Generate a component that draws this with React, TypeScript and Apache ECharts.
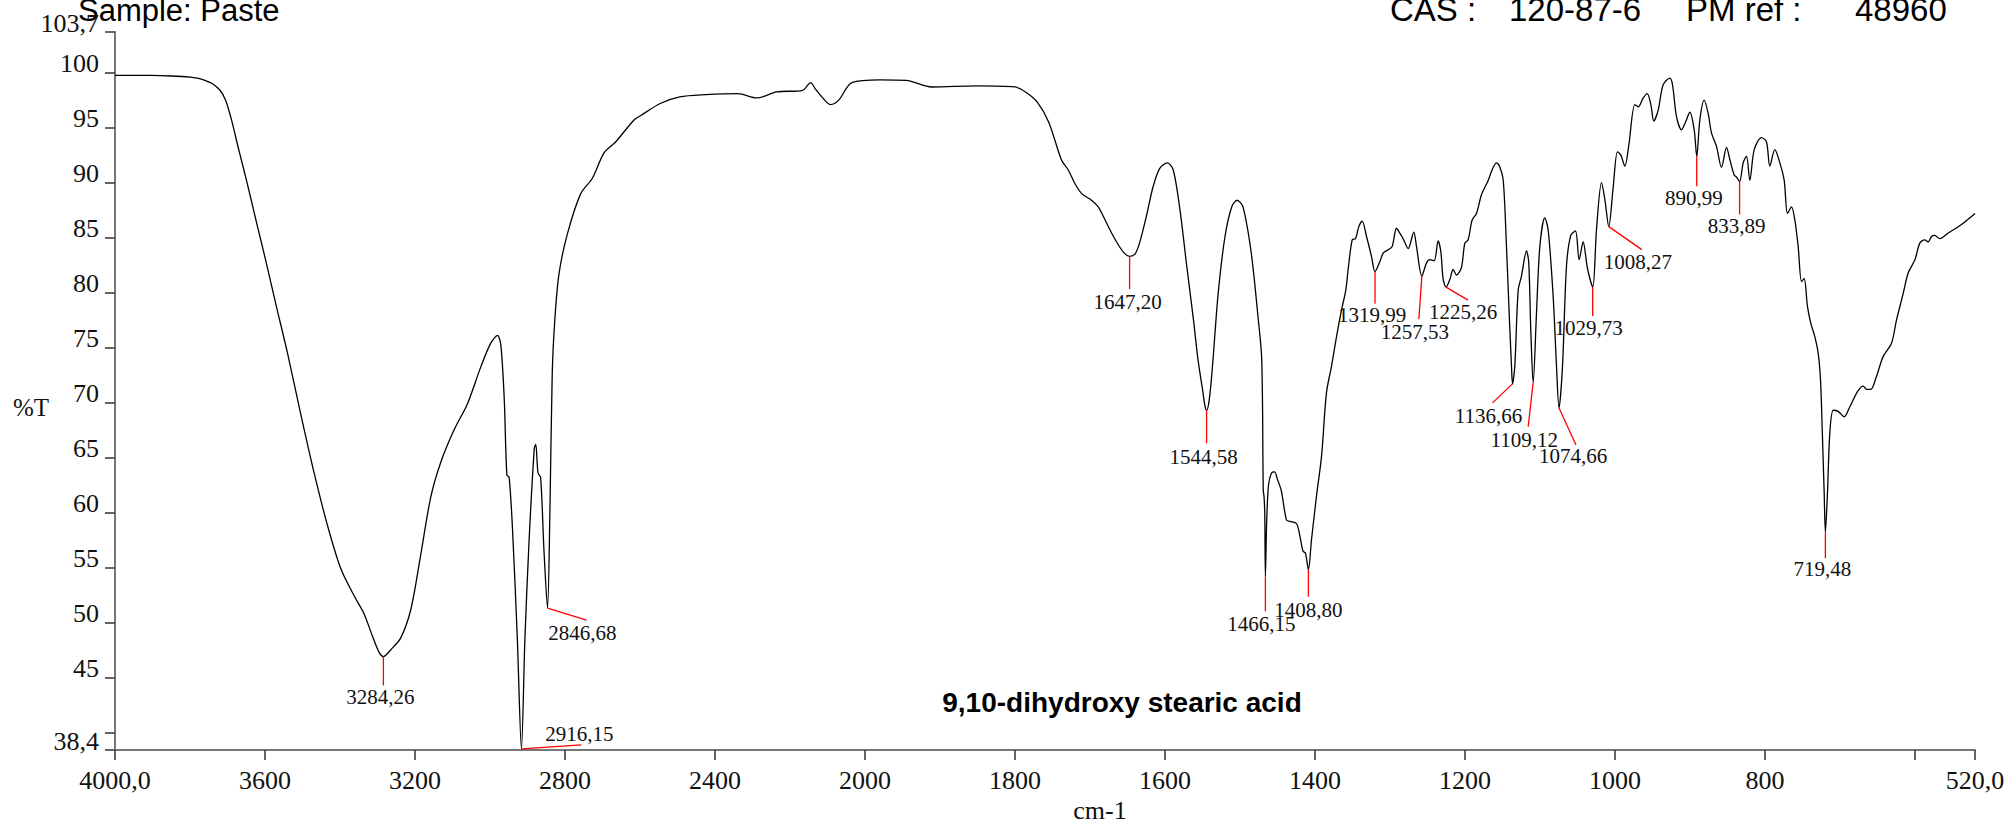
import { useEffect, useRef } from 'react';
import * as echarts from 'echarts';

// IR spectrum: [wavenumber (cm-1), %T]
const spectrum: [number, number][] = [
  [4000, 99.75], [3900, 99.75], [3850, 99.7], [3800, 99.6], [3780, 99.5], [3760, 99.3], [3740, 99.0],
  [3720, 98.4], [3705, 97.5], [3690, 95.8], [3670, 93.0], [3650, 90.3], [3620, 86.0], [3600, 83.2],
  [3570, 78.8], [3540, 74.5], [3505, 69.0], [3469, 63.6], [3434, 58.9], [3398, 54.9], [3362, 52.4],
  [3336, 50.8], [3314, 48.8], [3296, 47.3], [3284.26, 46.9], [3265, 47.5], [3238, 48.6], [3211, 51.2],
  [3185, 56.1], [3158, 61.4], [3131, 64.6], [3096, 67.5], [3060, 69.9], [3025, 73.2], [2998, 75.4],
  [2980, 76.1], [2971, 75.2], [2962, 70.3], [2955, 63.4], [2949, 63.2], [2940, 58.5], [2927, 48.4],
  [2916.15, 38.5], [2907, 48.4], [2896, 57.3], [2882, 65.8], [2878, 66.2], [2872, 63.6], [2865, 63.2],
  [2856, 56.5], [2846.68, 51.3], [2840, 60.6], [2834, 72.7], [2827, 77.6], [2816, 81.7], [2794, 85.3],
  [2758, 89.0], [2727, 90.4], [2696, 92.7], [2665, 93.7], [2616, 95.7], [2598, 96.1], [2546, 97.2],
  [2494, 97.8], [2425, 98.0], [2339, 98.1], [2288, 97.7], [2236, 98.25], [2166, 98.4], [2145, 99.1],
  [2132, 98.5], [2110, 97.6], [2092, 97.1], [2070, 97.5], [2035, 99.1], [1980, 99.35], [1945, 99.3],
  [1911, 98.7], [1850, 98.8], [1800, 98.7], [1785, 98.2], [1770, 97.3], [1755, 95.5], [1738, 92.06],
  [1729, 91.15], [1720, 89.9], [1711, 89.0], [1698, 88.4], [1689, 87.8], [1682, 86.9], [1671, 85.4],
  [1660, 84.1], [1653, 83.5], [1647.2, 83.3], [1640, 83.5], [1634, 84.5], [1625, 86.9], [1616, 89.6],
  [1607, 91.3], [1597, 91.8], [1589, 91.15], [1580, 87.5], [1571, 82.4], [1562, 77.5], [1556, 73.9],
  [1550, 71.2], [1546.5, 69.6], [1544.58, 69.3], [1542, 69.8], [1539, 71.5], [1536, 73.9], [1529, 80.0],
  [1520, 85.1], [1511, 87.8], [1504, 88.4], [1496, 87.8], [1485, 83.6], [1476, 77.8], [1471, 73.9],
  [1469, 62.0], [1468, 61.5], [1467, 60.0], [1466.15, 54.2], [1464.5, 59.0], [1462, 62.5], [1458, 63.6],
  [1454, 63.7], [1450, 63.0], [1445, 62.0], [1438, 59.3], [1433.6, 59.2], [1424.7, 59.0], [1420, 57.8],
  [1416, 56.5], [1412.7, 56.3], [1408.8, 54.8], [1404.7, 57.5], [1398, 61.5], [1391.3, 65.1],
  [1384.7, 70.9], [1378, 73.3], [1371.3, 76.0], [1364.7, 78.4], [1359, 80.2], [1355.8, 82.1],
  [1350.4, 84.8], [1346, 84.9], [1341.6, 86.0], [1337.1, 86.5], [1331.3, 85.1], [1324.7, 83.3],
  [1319.99, 81.9], [1313.6, 82.8], [1309, 83.6], [1302.4, 83.9], [1297.1, 84.2], [1291.3, 85.85],
  [1286.9, 85.4], [1282.5, 84.9], [1275.8, 84.0], [1268.3, 85.5], [1264.7, 84.2], [1257.53, 81.5],
  [1251.3, 82.7], [1246.9, 83.0], [1241.1, 82.9], [1235.8, 84.7], [1232.2, 83.7], [1229.1, 81.2],
  [1225.26, 80.5], [1220.2, 81.2], [1215.8, 82.1], [1211.3, 81.6], [1204.7, 82.3], [1200.2, 84.5],
  [1195.8, 84.8], [1190.5, 86.6], [1184.7, 87.2], [1178, 88.9], [1169.1, 90.2], [1163, 91.3],
  [1158, 91.8], [1154, 91.5], [1149, 90.2], [1144.7, 84.2], [1141.1, 78.1], [1138, 73.3],
  [1136.66, 71.7], [1133.6, 73.3], [1129.1, 80.2], [1124.7, 81.5], [1118, 83.8], [1115, 82.7],
  [1112.3, 76.6], [1109.12, 71.8], [1104.7, 78.1], [1100.2, 84.2], [1093.6, 86.8], [1089.1, 85.7],
  [1082.4, 79.6], [1078, 73.3], [1074.66, 69.5], [1070, 73.3], [1064.7, 82.4], [1059, 85.2],
  [1052.7, 85.6], [1047.8, 83.0], [1042.5, 84.6], [1036.7, 82.2], [1029.73, 80.5], [1024.7, 85.7],
  [1018, 90.0], [1013.6, 88.5], [1008.27, 86.0], [1002.4, 89.6], [996.7, 92.8], [992.2, 92.5],
  [986.9, 91.5], [981.6, 93.4], [973.6, 97.1], [969.1, 96.9], [962.4, 97.7], [957.1, 98.1],
  [952.2, 97.1], [948.2, 95.6], [942.4, 96.6], [935.8, 98.9], [926.9, 99.5], [923.3, 98.9],
  [918, 96.0], [911.3, 94.8], [906, 95.5], [900.2, 96.4], [894.4, 94.8], [890.99, 92.4],
  [886.9, 95.7], [881.1, 97.5], [875.8, 96.3], [871.3, 94.5], [864.7, 93.3], [858, 91.4],
  [851.3, 93.2], [846.9, 92.1], [841.1, 90.7], [838, 90.5], [833.89, 90.1], [829.1, 91.8],
  [824.7, 92.4], [820.2, 90.2], [814.4, 93.0], [804.7, 94.1], [798, 93.7], [793.6, 91.5],
  [786.9, 93.0], [780.2, 91.8], [774.4, 90.2], [770, 87.2], [764.7, 87.8], [760.2, 86.6],
  [755.8, 84.2], [751.3, 81.0], [747.8, 81.3], [743.3, 78.7], [738.9, 77.2], [733.6, 76.0],
  [729.1, 74.5], [726, 72.1], [723.8, 67.8], [721.1, 61.8], [719.48, 58.2], [716.7, 61.8],
  [713.6, 67.2], [709, 69.3], [702.4, 69.2], [694.4, 68.7], [687, 69.6], [676.7, 71.0], [669, 71.5],
  [664.7, 71.2], [659, 71.2], [651.3, 72.4], [642.4, 74.2], [631.3, 75.4], [624.7, 77.5],
  [615.8, 79.9], [609, 81.8], [600, 83.0], [593.6, 84.5], [587, 84.8], [582.5, 84.6], [578, 85.1],
  [573.6, 85.2], [567, 84.9], [556, 85.4], [538, 86.2], [520, 87.2],
];

const peakWavenumbers = [3284.26, 2916.15, 2846.68, 1647.2, 1544.58, 1466.15, 1408.8, 1319.99, 1257.53,
  1225.26, 1136.66, 1109.12, 1074.66, 1029.73, 1008.27, 890.99, 833.89, 719.48];
const peakValues = [46.9, 38.5, 51.3, 83.3, 69.3, 54.2, 54.8, 81.9, 81.5, 80.5, 71.7, 71.8, 69.5, 80.5,
  86.0, 92.4, 90.1, 58.2];

// callout layout in pixels relative to the peak: [lineEndDx, lineEndDy, textDx, textDy]
const peakCallouts: [number, number, number, number][] = [
  [0, 29, -3, 40], [60, -4, 58, -15], [39, 12, 35, 25], [0, 33, -2, 46], [0, 33, -3, 47],
  [0, 35, -4, 48], [0, 27, 0, 40], [0, 32, -3, 43], [-3, 43, -7, 56], [22, 13, 17, 25],
  [-20, 19, -24, 32], [-5, 44, -9, 57], [17, 37, 14, 48], [0, 29, -4, 41], [33, 23, 29, 35],
  [0, 30, -3, 42], [0, 33, -3, 44], [0, 26, -3, 37],
];

const xTickWavenumbers = [4000, 3600, 3200, 2800, 2400, 2000, 1800, 1600, 1400, 1200, 1000, 800, 600, 520];
const xTickLabels = ['4000,0', '3600', '3200', '2800', '2400', '2000', '1800', '1600', '1400', '1200', '1000', '800', '', '520,0'];
const yTickValues = [38.4, 40, 45, 50, 55, 60, 65, 70, 75, 80, 85, 90, 95, 100, 103.7];
const yLabelValues = [38.4, 45, 50, 55, 60, 65, 70, 75, 80, 85, 90, 95, 100, 103.7];

// The spectrometer plots 4000-2000 cm-1 at half the scale of 2000-520 cm-1
const toU = (w: number) => (w >= 2000 ? (4000 - w) / 2 : 1000 + (2000 - w));
const fmt = (v: number) => String(v).replace('.', ',');

const SERIF = '"Liberation Serif", "Times New Roman", serif';
const SANS = '"Comic Sans MS", "Liberation Sans", Arial, sans-serif';

export default function App() {
  const ref = useRef<HTMLDivElement>(null);
  useEffect(() => {
    const chart = echarts.init(ref.current!, null, { renderer: 'svg' });
    const xTickU = xTickWavenumbers.map(toU);
    const xLabelU = xTickU.filter((_, i) => xTickLabels[i] !== '');
    const peakData = peakWavenumbers.map((w, i) => [toU(w), peakValues[i], i]);
    chart.setOption({
      animation: false,
      backgroundColor: '#ffffff',
      grid: { left: 115, right: 34, top: 32, bottom: 72, containLabel: false },
      xAxis: {
        type: 'value', min: 0, max: toU(520),
        axisLine: { show: true, onZero: false, lineStyle: { color: '#777777', width: 2 } },
        axisTick: { show: true, inside: false, length: 10, customValues: xTickU, lineStyle: { color: '#333333', width: 1.5 } },
        axisLabel: {
          customValues: xLabelU,
          formatter: (v: number) => {
            const i = xTickU.findIndex((u) => Math.abs(u - v) < 0.5);
            return i >= 0 ? xTickLabels[i] : '';
          },
          fontFamily: SERIF, fontSize: 26, color: '#111111', margin: 17, lineHeight: 26,
        },
        splitLine: { show: false },
      },
      yAxis: {
        type: 'value', min: 38.4, max: 103.7,
        axisLine: { show: true, lineStyle: { color: '#777777', width: 2 } },
        axisTick: { show: true, inside: false, length: 10, customValues: yTickValues, lineStyle: { color: '#333333', width: 1.5 } },
        axisLabel: {
          customValues: yLabelValues, formatter: (v: number) => fmt(v),
          fontFamily: SERIF, fontSize: 26, color: '#111111', margin: 16,
          verticalAlign: 'bottom', lineHeight: 18,
        },
        splitLine: { show: false },
      },
      series: [
        {
          type: 'line', data: spectrum.map(([w, t]) => [toU(w), t]),
          showSymbol: false, smooth: 0.3,
          lineStyle: { color: '#000000', width: 1.3 }, z: 3,
        },
        {
          type: 'custom', coordinateSystem: 'cartesian2d', clip: false, z: 4,
          data: peakData,
          renderItem: (params: any, api: any) => {
            const p = api.coord([api.value(0), api.value(1)]);
            const i = api.value(2);
            const c = peakCallouts[i];
            return {
              type: 'group',
              children: [
                { type: 'line', shape: { x1: p[0], y1: p[1], x2: p[0] + c[0], y2: p[1] + c[1] }, style: { stroke: '#ff0000', lineWidth: 1.3 } },
                {
                  type: 'text',
                  style: {
                    text: peakWavenumbers[i].toFixed(2).replace('.', ','), x: p[0] + c[2], y: p[1] + c[3],
                    font: `21px ${SERIF}`, fill: '#111111', align: 'center', verticalAlign: 'middle',
                  },
                },
              ],
            };
          },
        },
      ],
      graphic: [
        { type: 'text', left: 78, top: -5, style: { text: 'Sample: Paste', font: `31px ${SANS}`, fill: '#000' } },
        { type: 'text', left: 1390, top: -7, style: { text: 'CAS :', font: `33px ${SANS}`, fill: '#000' } },
        { type: 'text', left: 1509, top: -7, style: { text: '120-87-6', font: `33px ${SANS}`, fill: '#000' } },
        { type: 'text', left: 1686, top: -7, style: { text: 'PM ref :', font: `33px ${SANS}`, fill: '#000' } },
        { type: 'text', left: 1855, top: -7, style: { text: '48960', font: `33px ${SANS}`, fill: '#000' } },
        { type: 'text', x: 1122, y: 702, style: { text: '9,10-dihydroxy stearic acid', font: `bold 28px ${SANS}`, fill: '#000', align: 'center', verticalAlign: 'middle' } },
        { type: 'text', x: 13, y: 407, style: { text: '%T', font: `25px ${SERIF}`, fill: '#111', align: 'left', verticalAlign: 'middle' } },
        { type: 'text', x: 1100, y: 810, style: { text: 'cm-1', font: `26px ${SERIF}`, fill: '#111', align: 'center', verticalAlign: 'middle' } },
      ],
    });
    return () => chart.dispose();
  }, []);
  return <div ref={ref} style={{ position: 'absolute', left: 0, top: 0, width: 2009, height: 822, background: '#fff' }} />;
}
